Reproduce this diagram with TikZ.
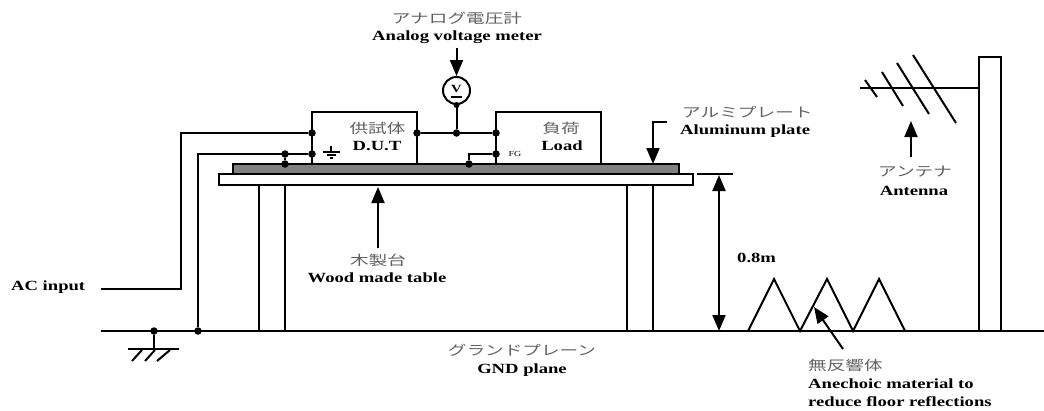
\documentclass[tikz,border=0pt]{standalone}
\usepackage{fontspec}
\setmainfont{Liberation Serif}[FakeStretch=1.33]
\newfontfamily\cjk{Noto Sans CJK JP}[FakeStretch=1.38]
\usetikzlibrary{arrows.meta}
\definecolor{jpgray}{gray}{0.38}
\tikzset{
  wire/.style={line width=2pt,draw=black},
  box/.style={draw=black,line width=2pt,inner sep=0pt,outer sep=0pt,anchor=north west,fill=white},
  pointer/.style={line width=2pt,draw=black,-{Triangle[length=16pt,width=13pt]}},
  dot/.style={circle,fill=black,inner sep=0pt,minimum size=7.5pt},
  en/.style={font=\bfseries\fontsize{14}{16}\selectfont,inner sep=0pt,anchor=center},
  jp/.style={font=\cjk\fontsize{13.5}{15}\selectfont,text=jpgray,inner sep=0pt,anchor=center},
}
\begin{document}
\begin{tikzpicture}[x=1pt,y=-1pt]
\useasboundingbox (0,0) rectangle (1044,410);
% table and plate
\node[box,minimum width=474pt,minimum height=11pt] (table) at (219,174) {};
\node[box,fill={rgb,255:red,128;green,128;blue,128},minimum width=446pt,minimum height=10pt] (plate) at (233,164) {};
\node[box,minimum width=26pt,minimum height=146pt,fill=none] (legA) at (259,185) {};
\node[box,minimum width=26pt,minimum height=146pt,fill=none] (legB) at (627,185) {};
% DUT and load
\node[box,minimum width=105pt,minimum height=52pt] (dut) at (312,112) {};
\node[box,minimum width=105pt,minimum height=52pt] (load) at (496,112) {};
% ground plane
\coordinate (gl) at (101,331);
\coordinate (gr) at (1044,331);
\draw[wire] (gl) -- (gr);
% named junctions
\node[dot] (j1) at (312,133) {};
\node[dot] (j2) at (312,154) {};
\node[dot] (j3) at (285,154) {};
\node[dot] (j4) at (285,164) {};
\node[dot] (j5) at (417,133) {};
\node[dot] (j6) at (456.5,133) {};
\node[dot] (j7) at (496,133) {};
\node[dot] (j8) at (496,154) {};
\node[dot] (j9) at (469,164) {};
\node[dot] (j10) at (198,331) {};
\node[dot] (j11) at (154,331) {};
% wiring
\coordinate (acin) at (101,289);
\draw[wire] (j1) -- (181,133) -- (181,289) -- (acin);
\draw[wire] (j2) -- (198,154) -- (j10);
\draw[wire] (j3) -- (j4);
\draw[wire] (j5) -- (j7);
\draw[wire] (j8) -- (469,154) -- (j9);
% voltmeter
\node[circle,draw=black,line width=2pt,fill=white,minimum size=27pt,inner sep=0pt] (vm) at (456.5,90.5) {};
\node[font=\bfseries\fontsize{11}{11}\selectfont,inner sep=0pt] (vt) at (456.5,88.5) {V};
\coordinate (vb1) at (451,97);
\coordinate (vb2) at (462,97);
\draw[wire] (vb1) -- (vb2);
\draw[wire] (vm.south) -- (j6);
\fill (vm.south) circle (3pt);
\coordinate (vmarrow) at (456.5,48);
\draw[pointer] (vmarrow) -- (vm.north);
% DUT ground symbol
\coordinate (g0) at (331,146);
\coordinate (g1) at (331,152);
\draw[line width=1.3pt] (g0) -- (g1);
\draw[line width=1.3pt] (323,152) -- (340,152);
\draw[line width=1.3pt] (327,155) -- (336,155);
\draw[line width=1.3pt] (329.5,158) -- (333,158);
% earth symbol
\coordinate (e0) at (154,349);
\draw[wire] (j11) -- (e0);
\draw[wire] (128,349) -- (179,349);
\draw[wire] (142,350) -- (132,361);
\draw[wire] (155,350) -- (145,361);
\draw[wire] (170,350) -- (157,361);
% aluminum pointer
\coordinate (alstart) at (667,122);
\draw[pointer] (alstart) -- (653,122) -- (653,164);
% height dimension
\coordinate (t1) at (697,174);
\coordinate (t2) at (733,174);
\draw[wire] (t1) -- (t2);
\draw[line width=2pt,{Triangle[length=16pt,width=13pt]}-{Triangle[length=16pt,width=13pt]}] (719,175) -- (719,331);
% table pointer
\coordinate (tabp) at (378,248);
\draw[pointer] (tabp) -- (378,187);
% absorbers
\draw[wire,line join=miter] (748,331) -- (774,279) -- (800,331) -- (827,279) -- (853,331) -- (879,279) -- (905,331);
\coordinate (anp) at (843,349);
\draw[pointer] (anp) -- (814,307);
% antenna
\node[box,minimum width=22pt,minimum height=274pt,fill=none] (mast) at (979,57) {};
\coordinate (boom) at (860,88);
\draw[wire] (boom) -- (979,88);
\draw[wire] (865,80) -- (877,97);
\draw[wire] (882,72) -- (903,106);
\draw[wire] (897,63) -- (929,114);
\draw[wire] (913,55) -- (956,123);
\coordinate (antp) at (911,157);
\draw[pointer] (antp) -- (911,121);
% labels
\node[jp] (l1) at (457,18) {アナログ電圧計};
\node[en] (l2) at (457,37) {Analog voltage meter};
\node[jp] (l3) at (377.5,128) {供試体};
\node[en] (l4) at (377,146) {D.U.T};
\node[jp] (l5) at (561,128) {負荷};
\node[en] (l6) at (562,146) {Load};
\node[font=\fontsize{7.5}{7.5}\selectfont,inner sep=0pt] (l7) at (515,154) {FG};
\node[jp,anchor=west] (l8) at (682,112) {アルミプレート};
\node[en,anchor=west] (l9) at (680,131) {Aluminum plate};
\node[jp] (l10) at (915,172) {アンテナ};
\node[en] (l11) at (914,191) {Antenna};
\node[jp] (l12) at (378,260) {木製台};
\node[en] (l13) at (377,278) {Wood made table};
\node[en,anchor=west] (l14) at (11,287) {AC input};
\node[en,anchor=west] (l15) at (737,258) {0.8m};
\node[jp] (l16) at (522,350) {グランドプレーン};
\node[en] (l17) at (522,370) {GND plane};
\node[jp,anchor=west] (l18) at (808,365) {無反響体};
\node[en,anchor=west] (l19) at (808,384) {Anechoic material to};
\node[en,anchor=west] (l20) at (808,402) {reduce floor reflections};
\end{tikzpicture}
\end{document}
